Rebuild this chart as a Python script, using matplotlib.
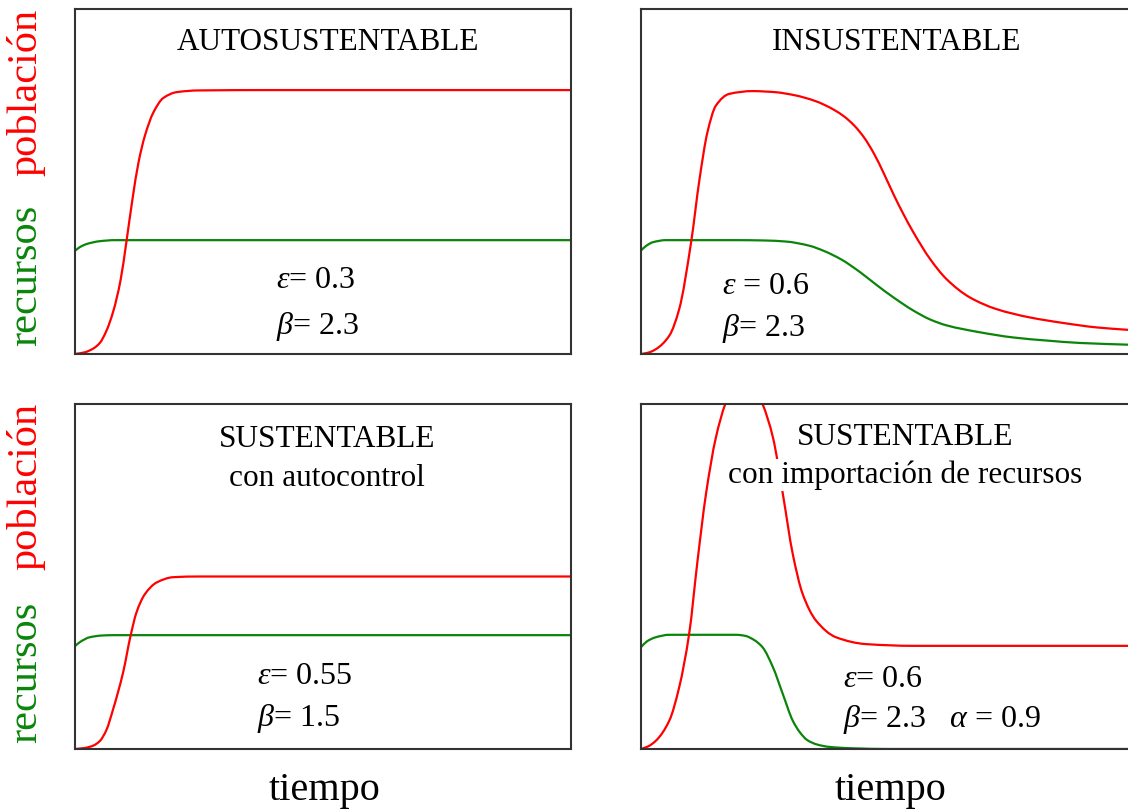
"""Cuatro escenarios poblacion / recursos frente al tiempo."""

import matplotlib
matplotlib.use("Agg")
import matplotlib.pyplot as plt
import numpy as np
from matplotlib.patches import PathPatch
from matplotlib.path import Path

plt.rcParams["font.family"] = ["Liberation Serif", "DejaVu Serif"]
plt.rcParams["mathtext.fontset"] = "custom"
plt.rcParams["mathtext.rm"] = "Liberation Serif"
plt.rcParams["mathtext.it"] = "Liberation Serif:italic"

RED = "#ff0000"
GREEN = "#0a850a"

# --- datos (tiempo 0-100, valor 0-100 del alto del panel) ---
auto_t_pob = [0, 2.0, 3.7, 5.0, 6.3, 7.7, 9.2, 10.4, 11.6, 12.8, 14.1, 15.8, 17.8, 20.5, 25, 40, 100]
auto_pob = [0, 0.5, 1.6, 3.2, 6.6, 12.3, 21.5, 32.9, 45.0, 55.5, 63.3, 70.0, 74.2, 75.9, 76.4, 76.5, 76.5]
auto_t_rec = [0, 1.0, 2.4, 5.0, 8, 100]
auto_rec = [29.9, 31.0, 31.9, 32.7, 33.0, 33.0]

insus_t_pob = [0, 1.5, 3.0, 5.7, 7.7, 10.1, 11.8, 13.4, 15.1, 17.8, 22.5, 27, 31, 35, 37, 39,
               41, 43, 45, 47, 49, 51, 53, 54.9, 58.3, 61.6, 66.3, 71.7, 78.4, 85.1, 91.9,
               98.2, 100]
insus_pob = [0, 0.4, 1.4, 5.3, 13.0, 32.4, 50.7, 64.3, 72.0, 75.4, 76.2, 75.9, 75.0, 73.4,
             72.2, 70.7, 68.8, 66.2, 62.7, 58.0, 52.2, 46.0, 40.3, 35.3, 27.5, 21.7, 16.4,
             13.0, 10.6, 9.0, 7.7, 7.0, 6.8]
insus_t_rec = [0, 1.0, 2.4, 5.0, 19.2, 25, 29.2, 33.9, 37, 40.5, 44, 47.5, 51, 54.9, 58.3,
               61.6, 68.3, 75.0, 81.8, 88.5, 98.2, 100]
insus_rec = [30.0, 31.3, 32.4, 33.0, 33.0, 32.9, 32.6, 31.4, 29.8, 27.3, 23.9, 20.0, 16.3, 12.6,
             10.0, 8.3, 6.3, 4.8, 3.9, 3.2, 2.7, 2.6]

ctrl_t_pob = [0, 2.0, 3.7, 5.0, 6.3, 7.7, 9.7, 11.2, 12.4, 14.1, 16.5, 19.8, 25, 100]
ctrl_pob = [0, 0.3, 1.0, 2.3, 5.4, 11.6, 22.2, 32.8, 39.6, 44.9, 48.3, 49.8, 50.0, 50.0]
ctrl_t_rec = [0, 1.0, 3.0, 5.5, 8, 100]
ctrl_rec = [29.8, 31.0, 32.4, 32.9, 33.0, 33.0]

imp_t_pob = [0, 1.5, 3.0, 5.7, 7.7, 9.7, 11.4, 13.1, 15.1, 17.0, 18.7, 20.7, 22.7, 24.5,
             26.6, 28.6, 30.6, 32.6, 35.3, 39.3, 45.4, 55, 100]
imp_pob = [0, 0.8, 2.4, 8.2, 17.9, 33.3, 54.6, 73.9, 90.3, 100, 105, 106.5, 105, 100,
           90.3, 73.9, 56.5, 44.9, 37.2, 32.4, 30.4, 29.9, 29.9]
imp_t_rec = [0, 1.2, 3.0, 5.7, 19.2, 21.0, 22.8, 24.5, 26.6, 28.6, 30.6, 32.0, 33.5, 35.5,
             38.0, 42.7, 50, 100]
imp_rec = [29.5, 31.2, 32.4, 33.1, 33.1, 32.8, 31.6, 29.5, 23.7, 15.9, 8.2, 4.9, 2.6, 1.3,
           0.6, 0.2, 0, 0]

titles = [
    ["AUTOSUSTENTABLE"],
    ["INSUSTENTABLE"],
    ["SUSTENTABLE", "con autocontrol"],
    ["SUSTENTABLE", "con importación de recursos"],
]
params = [
    [r"$\varepsilon$= 0.3", r"$\beta$= 2.3"],
    [r"$\varepsilon$ = 0.6", r"$\beta$= 2.3"],
    [r"$\varepsilon$= 0.55", r"$\beta$= 1.5"],
    [r"$\varepsilon$= 0.6", r"$\beta$= 2.3   $\alpha$ = 0.9"],
]
curves = [
    (auto_t_pob, auto_pob, auto_t_rec, auto_rec),
    (insus_t_pob, insus_pob, insus_t_rec, insus_rec),
    (ctrl_t_pob, ctrl_pob, ctrl_t_rec, ctrl_rec),
    (imp_t_pob, imp_pob, imp_t_rec, imp_rec),
]


def smooth_path(x, y):
    """Monotone cubic (PCHIP-style) Bezier path through the read points."""
    x = np.asarray(x, float)
    y = np.asarray(y, float)
    h = np.diff(x)
    d = np.diff(y) / h
    m = np.zeros_like(y)
    m[0], m[-1] = d[0], d[-1]
    for k in range(1, len(y) - 1):
        if d[k - 1] * d[k] > 0:
            w1 = 2 * h[k] + h[k - 1]
            w2 = h[k] + 2 * h[k - 1]
            m[k] = (w1 + w2) / (w1 / d[k - 1] + w2 / d[k])
    verts = [(x[0], y[0])]
    codes = [Path.MOVETO]
    for k in range(len(h)):
        verts += [(x[k] + h[k] / 3, y[k] + m[k] * h[k] / 3),
                  (x[k + 1] - h[k] / 3, y[k + 1] - m[k + 1] * h[k] / 3),
                  (x[k + 1], y[k + 1])]
        codes += [Path.CURVE4] * 3
    return Path(verts, codes)


fig = plt.figure(figsize=(11.28, 8.12), dpi=100)
W, H = 1128, 812
boxes = [(75, 10), (641, 10), (75, 405), (641, 405)]
aw, ah = 496, 345

title_pos = [(0.51, [0.905]), (0.516, [0.905]), (0.508, [0.9, 0.786]), (0.532, [0.906, 0.795])]
param_pos = [(0.405, [0.215, 0.083]), (0.163, [0.2, 0.076]),
             (0.367, [0.213, 0.09]), (0.407, [0.205, 0.088])]

for i, (x0, y0) in enumerate(boxes):
    ax = fig.add_axes([x0 / W, (H - y0 - ah) / H, aw / W, ah / H])
    tp, vp, tr, vr = curves[i]
    ax.add_patch(PathPatch(smooth_path(tr, vr), facecolor="none", edgecolor=GREEN,
                           lw=1.6, zorder=2))
    ax.add_patch(PathPatch(smooth_path(tp, vp), facecolor="none", edgecolor=RED,
                           lw=1.6, zorder=2))
    ax.set_xlim(0, 100)
    ax.set_ylim(0, 100)
    ax.set_xticks([])
    ax.set_yticks([])
    for sp in ax.spines.values():
        sp.set_color("#333333")
        sp.set_linewidth(1.5)
        sp.set_zorder(6)

    tx, tys = title_pos[i]
    for line, ty in zip(titles[i], tys):
        ax.text(tx, ty, line, transform=ax.transAxes, ha="center", va="center",
                fontsize=22.5, zorder=5,
                bbox=dict(facecolor="white", edgecolor="none", pad=1.0))
    px, pys = param_pos[i]
    for line, py in zip(params[i], pys):
        ax.text(px, py, line, transform=ax.transAxes, ha="left", va="center",
                fontsize=23, zorder=5)

    if i in (0, 2):
        ax.text(-0.1, 0.762 if i == 0 else 0.765, "población", transform=ax.transAxes,
                rotation=90, ha="center", va="center", fontsize=30.5, color=RED)
        ax.text(-0.1, 0.232 if i == 0 else 0.226, "recursos", transform=ax.transAxes,
                rotation=90, ha="center", va="center", fontsize=30.5, color=GREEN)
    if i in (2, 3):
        ax.text(0.503, -0.116, "tiempo", transform=ax.transAxes,
                ha="center", va="center", fontsize=29)

fig.savefig("out.png", dpi=100)
